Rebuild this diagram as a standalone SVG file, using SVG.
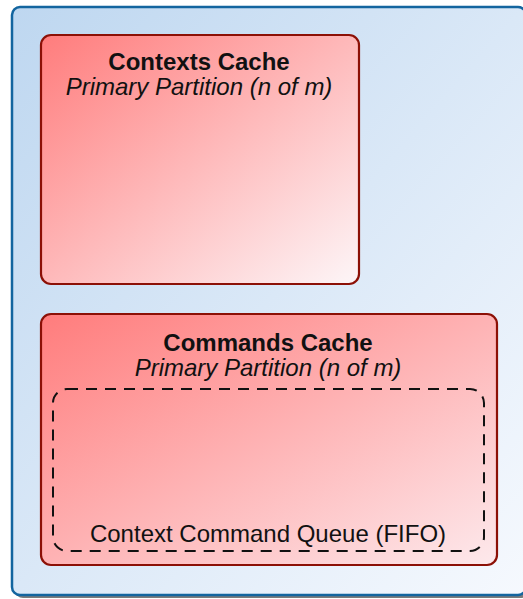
<svg xmlns="http://www.w3.org/2000/svg" width="523" height="599" viewBox="0 0 523 599">
  <defs>
    <linearGradient id="gradFrame" x1="0" y1="0" x2="1" y2="1">
      <stop offset="0" stop-color="#bed7f0"/>
      <stop offset="1" stop-color="#f6f9fe"/>
    </linearGradient>
    <linearGradient id="gradCache" x1="0" y1="0" x2="1" y2="1">
      <stop offset="0" stop-color="#ff7c7c"/>
      <stop offset="1" stop-color="#fdf6f8"/>
    </linearGradient>
    <linearGradient id="gradCacheWide" x1="0" y1="0" x2="1" y2="1">
      <stop offset="0" stop-color="#ff7c7c"/>
      <stop offset="1" stop-color="#fde9ec"/>
    </linearGradient>
  </defs>
  <style>
    .frame { fill: url(#gradFrame); stroke: #13659f; stroke-width: 2.5; }
    .shadow { fill: #5a5a5a; opacity: 0.8; }
    .cache { stroke: #8c1006; stroke-width: 2.2; }
    .queue { fill: none; stroke: #111; stroke-width: 2; stroke-dasharray: 11 8; }
    text { font-family: "Liberation Sans", Arial, sans-serif; font-size: 24px; fill: #111; text-anchor: middle; }
    .title { font-weight: bold; }
    .sub { font-style: italic; }
  </style>

  <!-- outer partition frame with drop shadow; right edge runs off the canvas -->
  <g id="partition">
    <rect class="shadow" x="15" y="10" width="514" height="588" rx="8"/>
    <rect class="frame" x="12" y="7" width="514" height="588" rx="8"/>
  </g>

  <g id="contexts-cache">
    <rect class="cache" x="41" y="35" width="318" height="249" rx="10" fill="url(#gradCache)"/>
    <text class="title" x="199" y="70">Contexts Cache</text>
    <text class="sub" x="199" y="95">Primary Partition (n of m)</text>
  </g>

  <g id="commands-cache">
    <rect class="cache" x="41" y="314" width="456" height="251" rx="10" fill="url(#gradCacheWide)"/>
    <text class="title" x="268" y="351">Commands Cache</text>
    <text class="sub" x="268" y="376">Primary Partition (n of m)</text>
  </g>

  <g id="command-queue">
    <rect class="queue" x="53" y="389" width="431" height="162" rx="14"/>
    <text x="268" y="542">Context Command Queue (FIFO)</text>
  </g>

  <g id="connectors"/>
</svg>
